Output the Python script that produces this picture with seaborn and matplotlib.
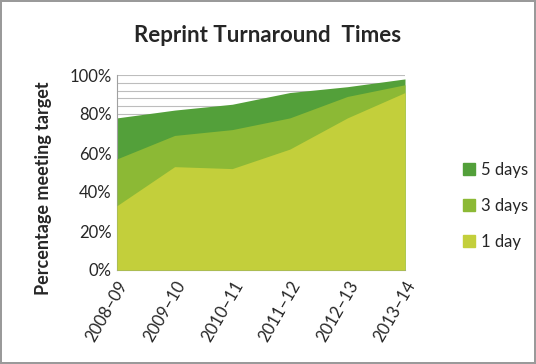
import matplotlib
matplotlib.use("Agg")
import matplotlib.pyplot as plt
import seaborn as sns
import numpy as np
from matplotlib.patches import Patch

# cumulative percentage meeting target
years = ["2008–09", "2009–10", "2010–11", "2011–12", "2012–13", "2013–14"]
one_day = [33, 53, 52, 62, 78, 91]
three_days = [57, 69, 72, 78, 89, 95]
five_days = [78, 82, 85, 91, 94, 98]

colors = {"5 days": "#53a03a", "3 days": "#8cb935", "1 day": "#c3cf3b"}

sns.set_style("white")
plt.rcParams["font.family"] = ["Lato", "DejaVu Sans"]

fig = plt.figure(figsize=(5.36, 3.64), dpi=100)
fig.patch.set_edgecolor("#9a9a9a")
fig.patch.set_linewidth(1.5)
ax = fig.add_axes([117 / 536, 1 - 270 / 364, (405 - 117) / 536, (270 - 75) / 364])

x = np.arange(len(years))
ax.set_yticks(np.arange(0, 101, 4), minor=True)
ax.grid(True, which="minor", axis="y", color="#bdbdbd", lw=0.8)
ax.grid(True, which="major", axis="y", color="#bdbdbd", lw=0.8)
ax.set_axisbelow(True)

ax.fill_between(x, 0, five_days, color=colors["5 days"], lw=0, zorder=2)
ax.fill_between(x, 0, three_days, color=colors["3 days"], lw=0, zorder=3)
ax.fill_between(x, 0, one_day, color=colors["1 day"], lw=0, zorder=4)

ax.set_xlim(0, len(years) - 1)
ax.set_ylim(0, 100)
ax.set_yticks(range(0, 101, 20))
ax.set_yticklabels([f"{v}%" for v in range(0, 101, 20)], fontsize=12)
ax.set_xticks(x)
ax.set_xticklabels(years, rotation=60, ha="right", rotation_mode="anchor", fontsize=12)
ax.tick_params(axis="both", which="both", length=0, pad=4)
ax.tick_params(axis="x", pad=6)

for s in ["left", "bottom"]:
    ax.spines[s].set_color("#a0a0a0")
for s in ["top", "right"]:
    ax.spines[s].set_visible(False)

ax.set_ylabel("Percentage meeting target", fontsize=13, fontweight="bold")
ax.yaxis.set_label_coords(-0.225, 0.42)
fig.text(268 / 536, 1 - 35 / 364, "Reprint Turnaround  Times", ha="center", va="center",
         fontsize=16, fontweight="bold")

handles = [Patch(color=colors[k]) for k in ["5 days", "3 days", "1 day"]]
fig.legend(handles, ["5 days", "3 days", "1 day"], loc="center left",
           bbox_to_anchor=(448 / 536, 1 - 206 / 364), frameon=False, fontsize=12,
           handlelength=0.7, handleheight=0.7, handletextpad=0.4, labelspacing=1.2)

fig.savefig("out.png", dpi=100)
